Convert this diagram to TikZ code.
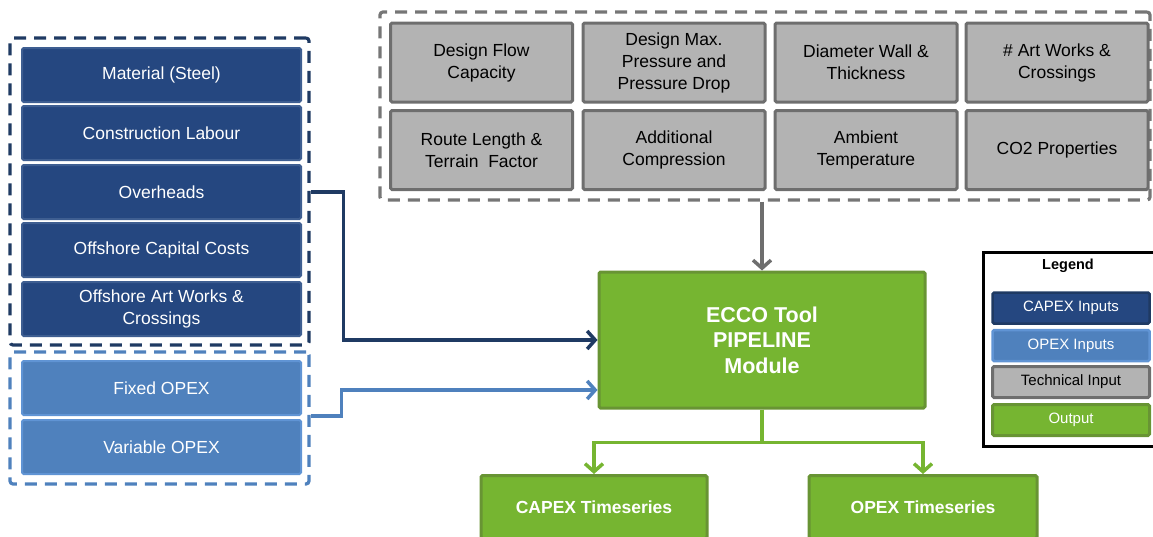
\documentclass[tikz,border=0pt]{standalone}
\usepackage{fontspec}
\setmainfont{Liberation Sans}
\usetikzlibrary{arrows.meta}
\definecolor{capexblue}{RGB}{37,71,128}
\definecolor{capexedge}{RGB}{62,94,145}
\definecolor{capexline}{RGB}{31,58,99}
\definecolor{opexblue}{RGB}{79,129,189}
\definecolor{opexedge}{RGB}{96,148,212}
\definecolor{techgray}{RGB}{179,179,179}
\definecolor{techedge}{RGB}{110,110,110}
\definecolor{dashgray}{RGB}{118,118,118}
\definecolor{outgreen}{RGB}{118,181,49}
\definecolor{outedge}{RGB}{104,148,52}
\tikzset{
    box/.style={rounded corners=1.5pt,align=center,inner sep=0pt,
        font=\fontsize{17.5}{22}\selectfont},
    capexbox/.style={box,fill=capexblue,draw=capexedge,line width=2pt,text=white,
        minimum width=279pt,minimum height=54pt},
    opexbox/.style={box,fill=opexblue,draw=opexedge,line width=2pt,text=white,
        minimum width=279pt,minimum height=54pt},
    techbox/.style={box,fill=techgray,draw=techedge,line width=3pt,
        minimum width=182pt,minimum height=79pt},
    outbox/.style={box,fill=outgreen,draw=outedge,line width=3pt,text=white},
    group/.style={line width=3.2pt,dash pattern=on 12pt off 8pt,rounded corners=3pt,
        inner sep=0pt},
    link/.style={line width=3.5pt,-{Straight Barb[length=8pt,width=18pt]}},
    legbox/.style={box,line width=2.5pt,minimum width=157pt,minimum height=31pt,
        font=\fontsize{15}{17}\selectfont}
}
\begin{document}
\begin{tikzpicture}[x=1pt,y=-1pt]
  \useasboundingbox (0,0) rectangle (1153,536);
  % Draw input groups
  \node[group,draw=capexline,minimum width=299pt,minimum height=307pt]
        (capexgrp) at (159.5,191.5) {};
  \node[group,draw=opexblue,minimum width=299pt,minimum height=132pt]
        (opexgrp) at (159.5,418) {};
  \node[group,draw=dashgray,minimum width=770pt,minimum height=188pt]
        (techgrp) at (765,106) {};
  % Draw CAPEX inputs
  \node[capexbox] (steel)    at (161.5,75)  {Material (Steel)};
  \node[capexbox] (labour)   at (161.5,133) {Construction Labour};
  \node[capexbox] (overhead) at (161.5,192) {Overheads};
  \node[capexbox] (offcap)   at (161.5,250) {Offshore Capital Costs};
  \node[capexbox] (offart)   at (161.5,309) {Offshore Art Works \&\\Crossings};
  % Draw OPEX inputs
  \node[opexbox] (fixed)    at (161.5,388) {Fixed OPEX};
  \node[opexbox] (variable) at (161.5,447) {Variable OPEX};
  % Draw technical inputs
  \node[techbox] (flow)     at (481.5,62.5) {Design Flow\\Capacity};
  \node[techbox] (pressure) at (674,62.5)   {Design Max.\\Pressure and\\Pressure Drop};
  \node[techbox] (diameter) at (866,62.5)   {Diameter Wall \&\\Thickness};
  \node[techbox] (artworks) at (1057,62.5)  {\# Art Works \&\\Crossings};
  \node[techbox] (route)    at (481.5,150)  {Route Length \&\\Terrain\ \ Factor};
  \node[techbox] (compress) at (674,150)    {Additional\\Compression};
  \node[techbox] (ambient)  at (866,150)    {Ambient\\Temperature};
  \node[techbox] (coprop)   at (1057,150)   {CO2 Properties};
  % Draw module and outputs
  \node[outbox,minimum width=326pt,minimum height=136pt,
        font=\fontsize{21.5}{25.5}\selectfont\bfseries]
        (module) at (762,340) {ECCO Tool\\PIPELINE\\Module};
  \node[outbox,minimum width=226pt,minimum height=63pt,
        font=\fontsize{17.5}{20}\selectfont\bfseries]
        (capexts) at (594,507) {CAPEX Timeseries};
  \node[outbox,minimum width=228pt,minimum height=63pt,
        font=\fontsize{17.5}{20}\selectfont\bfseries]
        (opexts) at (923,507) {OPEX Timeseries};
  % Draw connectors
  \draw[link,draw=capexline] (capexgrp.east |- overhead.east) -- ++(33,0)
        |- (module.west);
  \draw[link,draw=opexblue] (opexgrp.east |- fixed.south) -- ++(31,0)
        |- ([yshift=-50pt]module.west);
  \draw[link,draw=techedge] (module.north |- techgrp.south) -- (module.north);
  \draw[link,draw=outgreen] (module.south) -- ++(0,33) -| (capexts.north);
  \draw[link,draw=outgreen] (module.south) -- ++(0,33) -| (opexts.north);
  % Draw legend
  \node[draw=black,line width=3pt,minimum width=176pt,minimum height=194pt,
        inner sep=0pt] (legend) at (1071,349) {};
  \node[font=\fontsize{14.5}{16}\selectfont\bfseries] (legtitle) at (1068,266) {Legend};
  \node[legbox,fill=capexblue,draw=capexline,text=white] (legcapex) at (1071,308) {CAPEX Inputs};
  \node[legbox,fill=opexblue,draw=opexedge,text=white] (legopex) at (1071,345.5) {OPEX Inputs};
  \node[legbox,fill=techgray,draw=techedge,line width=3pt] (legtech) at (1071,382) {Technical Input};
  \node[legbox,fill=outgreen,draw=outedge,line width=3pt,text=white] (legout) at (1071,420) {Output};
\end{tikzpicture}
\end{document}
